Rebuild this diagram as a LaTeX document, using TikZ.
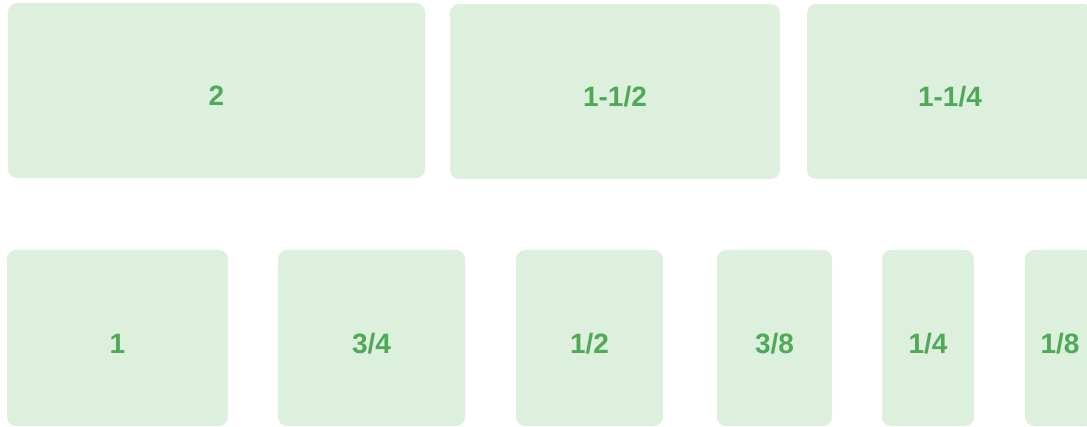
\documentclass[tikz,border=0pt]{standalone}
\usepackage{fontspec}
\setmainfont{Liberation Sans}
\usetikzlibrary{positioning}
\definecolor{sheet}{HTML}{DDEFDD}
\definecolor{leaf}{HTML}{4FAA58}
\tikzset{
  sizebox/.style={
    rectangle, rounded corners=9pt, draw=none, fill=sheet,
    minimum width=#1, inner sep=0pt,
    font=\fontsize{28}{30}\selectfont\bfseries, text=leaf,
    text height=31pt, text depth=0pt
  },
  sizebox/.default=100pt,
  toprow/.style={minimum height=175pt},
  botrow/.style={minimum height=176pt},
}
\begin{document}
\begin{tikzpicture}[x=1pt, y=-1pt]
  \useasboundingbox (0,0) rectangle (1087,427);
  % upper row
  \node[sizebox=417pt, toprow] (s2)    at (216.5,90.5) {2};
  \node[sizebox=330pt, toprow] (s1h)   at (615,91.5)   {1-1/2};
  \node[sizebox=286pt, toprow] (s1q)   at (950,91.5)   {1-1/4};
  % lower row
  \node[sizebox=221pt, botrow] (s1)    at (117.5,338)  {1};
  \node[sizebox=187pt, botrow] (s3q)   at (371.5,338)  {3/4};
  \node[sizebox=147pt, botrow] (shalf) at (589.5,338)  {1/2};
  \node[sizebox=115pt, botrow] (s3e)   at (774.5,338)  {3/8};
  \node[sizebox=92pt,  botrow] (squar) at (928,338)    {1/4};
  \node[sizebox=70pt,  botrow] (seig)  at (1060,338)   {1/8};
\end{tikzpicture}
\end{document}
